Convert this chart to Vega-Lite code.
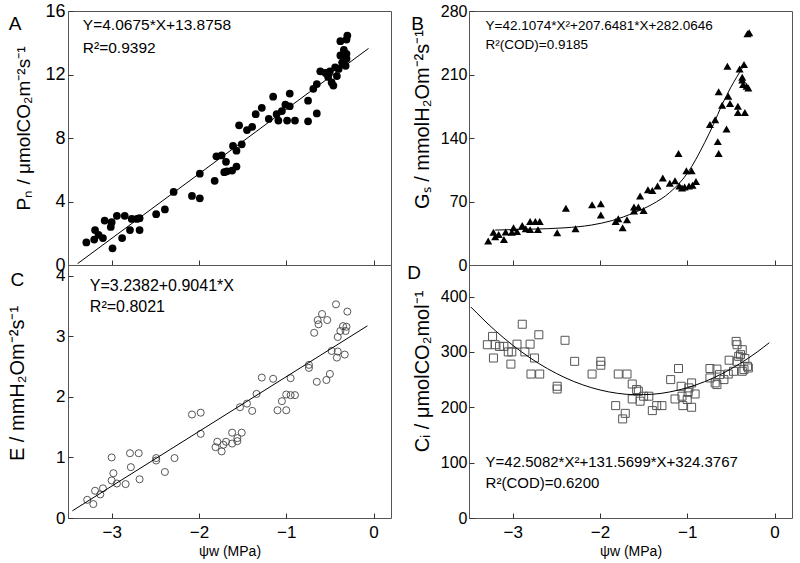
{
  "$schema": "https://vega.github.io/schema/vega-lite/v6.json",
  "autosize": {"type": "pad"},
  "padding": {"left": 7, "top": 1, "right": 0, "bottom": 0},
  "background": "white",
  "columns": 2,
  "spacing": {"row": 0, "column": 78},
  "bounds": "flush",
  "datasets": {
    "a_pts": [
      {"x":-3.29,"y":1.42},{"x":-3.20,"y":1.6},{"x":-3.19,"y":2.2},{"x":-3.15,"y":1.9},{"x":-3.10,"y":1.7},{"x":-3.08,"y":2.8},{"x":-3.01,"y":2.4},{"x":-2.99,"y":1.05},{"x":-3.0,"y":2.7},{"x":-2.94,"y":3.1},{"x":-2.88,"y":1.7},{"x":-2.85,"y":3.1},{"x":-2.79,"y":2.2},{"x":-2.77,"y":2.9},{"x":-2.71,"y":2.9},{"x":-2.68,"y":2.2},{"x":-2.68,"y":2.95},{"x":-2.49,"y":3.2},{"x":-2.39,"y":3.5},{"x":-2.29,"y":4.6},{"x":-2.08,"y":4.35},{"x":-1.99,"y":4.2},{"x":-1.99,"y":5.75},{"x":-1.82,"y":5.3},{"x":-1.80,"y":6.85},{"x":-1.74,"y":6.9},{"x":-1.69,"y":6.5},{"x":-1.71,"y":5.85},{"x":-1.68,"y":5.9},{"x":-1.62,"y":5.95},{"x":-1.57,"y":6.2},{"x":-1.61,"y":7.5},{"x":-1.57,"y":7.2},{"x":-1.54,"y":8.8},{"x":-1.51,"y":7.6},{"x":-1.45,"y":8.5},{"x":-1.39,"y":8.7},{"x":-1.35,"y":9.5},{"x":-1.28,"y":9.9},{"x":-1.20,"y":9.2},{"x":-1.15,"y":10.6},{"x":-1.11,"y":9.5},{"x":-1.09,"y":9.1},{"x":-1.05,"y":9.7},{"x":-1.01,"y":10.1},{"x":-0.99,"y":9.1},{"x":-0.96,"y":10.0},{"x":-0.96,"y":10.8},{"x":-0.90,"y":9.1},{"x":-0.75,"y":10.35},{"x":-0.75,"y":9.05},{"x":-0.65,"y":9.55},{"x":-0.69,"y":11.1},{"x":-0.65,"y":11.4},{"x":-0.61,"y":12.2},{"x":-0.55,"y":12.1},{"x":-0.52,"y":11.85},{"x":-0.50,"y":12.2},{"x":-0.48,"y":11.5},{"x":-0.46,"y":11.3},{"x":-0.44,"y":12.45},{"x":-0.42,"y":11.9},{"x":-0.40,"y":12.35},{"x":-0.38,"y":13.2},{"x":-0.36,"y":12.75},{"x":-0.34,"y":12.65},{"x":-0.32,"y":12.55},{"x":-0.34,"y":13.55},{"x":-0.31,"y":13.3},{"x":-0.38,"y":14.1},{"x":-0.31,"y":14.2},{"x":-0.30,"y":14.45},{"x":-0.31,"y":13.0}
    ],
    "a_fit": [{"x":-3.39,"y":0.087},{"x":-0.057,"y":13.644}],
    "a_txt": [{"x":-3.33,"y":15.1,"t":"Y=4.0675*X+13.8758"},{"x":-3.33,"y":13.7,"t":"R²=0.9392"}],
    "a_lab": [{"x":-4.107,"y":15.18,"t":"A"}],
    "b_pts": [
      {"x":-3.28,"y":26.5},{"x":-3.22,"y":36},{"x":-3.20,"y":31},{"x":-3.16,"y":33.5},{"x":-3.10,"y":28},{"x":-3.08,"y":36.5},{"x":-3.01,"y":36},{"x":-2.99,"y":41},{"x":-2.95,"y":37},{"x":-2.89,"y":43.5},{"x":-2.85,"y":40},{"x":-2.80,"y":48},{"x":-2.80,"y":39},{"x":-2.74,"y":48},{"x":-2.69,"y":48},{"x":-2.71,"y":39},{"x":-2.49,"y":35.6},{"x":-2.39,"y":62.5},{"x":-2.28,"y":40},{"x":-2.09,"y":66.5},{"x":-1.99,"y":67.5},{"x":-1.99,"y":55},{"x":-1.82,"y":48},{"x":-1.79,"y":51},{"x":-1.74,"y":41},{"x":-1.69,"y":50},{"x":-1.61,"y":64},{"x":-1.56,"y":64},{"x":-1.61,"y":59.5},{"x":-1.54,"y":76},{"x":-1.50,"y":60},{"x":-1.45,"y":83},{"x":-1.40,"y":82},{"x":-1.34,"y":87},{"x":-1.28,"y":96},{"x":-1.20,"y":90},{"x":-1.14,"y":93},{"x":-1.10,"y":123},{"x":-1.09,"y":87},{"x":-1.06,"y":85},{"x":-1.03,"y":86},{"x":-1.01,"y":104},{"x":-0.98,"y":87},{"x":-0.95,"y":104},{"x":-0.94,"y":88},{"x":-0.90,"y":92},{"x":-0.74,"y":155},{"x":-0.68,"y":160},{"x":-0.65,"y":136},{"x":-0.64,"y":123},{"x":-0.64,"y":191},{"x":-0.60,"y":176},{"x":-0.55,"y":150},{"x":-0.54,"y":219},{"x":-0.53,"y":186},{"x":-0.51,"y":178},{"x":-0.42,"y":175},{"x":-0.42,"y":168},{"x":-0.40,"y":216},{"x":-0.35,"y":221},{"x":-0.37,"y":204},{"x":-0.36,"y":199},{"x":-0.34,"y":168},{"x":-0.32,"y":197},{"x":-0.30,"y":195},{"x":-0.31,"y":255},{"x":-0.29,"y":256},{"x":-0.37,"y":207}
    ],
    "b_fit": [
      {"x":-3.2,"y":38.5},{"x":-2.8,"y":39.5},{"x":-2.4,"y":41},{"x":-2.1,"y":44},{"x":-1.86,"y":49},{"x":-1.6,"y":58},{"x":-1.4,"y":67},{"x":-1.2,"y":80},{"x":-1.0,"y":101},{"x":-0.8,"y":135},{"x":-0.7,"y":155},{"x":-0.6,"y":177},{"x":-0.5,"y":196},{"x":-0.37,"y":217}
    ],
    "b_txt": [{"x":-3.31,"y":263.5,"t":"Y=42.1074*X²+207.6481*X+282.0646"},{"x":-3.31,"y":242.5,"t":"R²(COD)=0.9185"}],
    "b_lab": [{"x":-4.09,"y":265.7,"t":"B"}],
    "c_pts": [
      {"x":-3.28,"y":0.30},{"x":-3.21,"y":0.23},{"x":-3.19,"y":0.45},{"x":-3.13,"y":0.39},{"x":-3.10,"y":0.49},{"x":-3.0,"y":1.0},{"x":-2.98,"y":0.74},{"x":-3.0,"y":0.62},{"x":-2.94,"y":0.57},{"x":-2.84,"y":0.56},{"x":-2.79,"y":1.07},{"x":-2.78,"y":0.84},{"x":-2.69,"y":1.07},{"x":-2.68,"y":0.64},{"x":-2.49,"y":0.99},{"x":-2.49,"y":0.95},{"x":-2.39,"y":0.76},{"x":-2.28,"y":0.99},{"x":-2.08,"y":1.71},{"x":-1.98,"y":1.74},{"x":-1.98,"y":1.39},{"x":-1.81,"y":1.17},{"x":-1.79,"y":1.26},{"x":-1.74,"y":1.10},{"x":-1.72,"y":1.21},{"x":-1.69,"y":1.26},{"x":-1.62,"y":1.23},{"x":-1.62,"y":1.41},{"x":-1.56,"y":1.32},{"x":-1.56,"y":1.27},{"x":-1.53,"y":1.83},{"x":-1.51,"y":1.41},{"x":-1.45,"y":1.89},{"x":-1.39,"y":1.77},{"x":-1.34,"y":2.05},{"x":-1.28,"y":2.32},{"x":-1.15,"y":2.30},{"x":-1.10,"y":1.78},{"x":-1.05,"y":1.93},{"x":-1.0,"y":1.78},{"x":-1.0,"y":2.04},{"x":-0.95,"y":2.31},{"x":-0.95,"y":2.03},{"x":-0.90,"y":2.03},{"x":-0.74,"y":2.48},{"x":-0.74,"y":2.53},{"x":-0.68,"y":3.06},{"x":-0.65,"y":2.25},{"x":-0.64,"y":3.27},{"x":-0.63,"y":3.20},{"x":-0.59,"y":3.37},{"x":-0.54,"y":2.28},{"x":-0.53,"y":3.27},{"x":-0.50,"y":2.38},{"x":-0.48,"y":2.76},{"x":-0.42,"y":2.65},{"x":-0.41,"y":2.75},{"x":-0.41,"y":2.99},{"x":-0.43,"y":3.53},{"x":-0.38,"y":3.09},{"x":-0.35,"y":3.17},{"x":-0.33,"y":2.70},{"x":-0.32,"y":3.09},{"x":-0.31,"y":3.16},{"x":-0.30,"y":3.41}
    ],
    "c_fit": [{"x":-3.45,"y":0.119},{"x":-0.07,"y":3.175}],
    "c_txt": [{"x":-3.25,"y":3.84,"t":"Y=3.2382+0.9041*X"},{"x":-3.25,"y":3.48,"t":"R²=0.8021"}],
    "c_lab": [{"x":-4.08,"y":3.94,"t":"C"}],
    "d_pts": [
      {"x":-3.29,"y":313},{"x":-3.23,"y":328},{"x":-3.22,"y":289},{"x":-3.20,"y":313},{"x":-3.15,"y":310},{"x":-3.10,"y":310},{"x":-3.05,"y":300},{"x":-3.02,"y":278},{"x":-3.01,"y":300},{"x":-2.95,"y":314},{"x":-2.89,"y":350},{"x":-2.86,"y":300},{"x":-2.80,"y":314},{"x":-2.79,"y":260},{"x":-2.75,"y":289},{"x":-2.70,"y":331},{"x":-2.69,"y":260},{"x":-2.49,"y":238},{"x":-2.49,"y":233},{"x":-2.40,"y":321},{"x":-2.29,"y":283},{"x":-2.09,"y":260},{"x":-1.99,"y":283},{"x":-1.99,"y":276},{"x":-1.82,"y":203},{"x":-1.79,"y":260},{"x":-1.74,"y":179},{"x":-1.71,"y":189},{"x":-1.69,"y":260},{"x":-1.63,"y":242},{"x":-1.63,"y":215},{"x":-1.58,"y":232},{"x":-1.56,"y":229},{"x":-1.54,"y":211},{"x":-1.50,"y":220},{"x":-1.44,"y":220},{"x":-1.40,"y":194},{"x":-1.35,"y":203},{"x":-1.29,"y":203},{"x":-1.19,"y":250},{"x":-1.14,"y":215},{"x":-1.10,"y":270},{"x":-1.07,"y":238},{"x":-1.06,"y":220},{"x":-1.05,"y":203},{"x":-1.0,"y":214},{"x":-0.99,"y":227},{"x":-0.98,"y":235},{"x":-0.95,"y":244},{"x":-0.95,"y":200},{"x":-0.91,"y":224},{"x":-0.74,"y":253},{"x":-0.74,"y":270},{"x":-0.68,"y":244},{"x":-0.66,"y":241},{"x":-0.66,"y":269},{"x":-0.63,"y":259},{"x":-0.58,"y":250},{"x":-0.52,"y":285},{"x":-0.53,"y":260},{"x":-0.47,"y":265},{"x":-0.44,"y":319},{"x":-0.43,"y":313},{"x":-0.43,"y":283},{"x":-0.41,"y":292},{"x":-0.39,"y":295},{"x":-0.37,"y":265},{"x":-0.37,"y":304},{"x":-0.35,"y":268},{"x":-0.34,"y":288},{"x":-0.31,"y":274},{"x":-0.30,"y":271}
    ],
    "d_fit": [
      {"x":-3.48,"y":381.31},{"x":-3.2,"y":338.64},{"x":-3.0,"y":312.24},{"x":-2.8,"y":289.24},{"x":-2.6,"y":269.66},{"x":-2.4,"y":253.46},{"x":-2.2,"y":240.67},{"x":-2.0,"y":231.27},{"x":-1.8,"y":225.28},{"x":-1.6,"y":222.69},{"x":-1.4,"y":223.50},{"x":-1.2,"y":227.71},{"x":-1.0,"y":235.32},{"x":-0.8,"y":246.33},{"x":-0.6,"y":260.74},{"x":-0.4,"y":278.55},{"x":-0.2,"y":299.77},{"x":-0.06,"y":316.64}
    ],
    "d_txt": [{"x":-3.31,"y":102,"t":"Y=42.5082*X²+131.5699*X+324.3767"},{"x":-3.31,"y":62.6,"t":"R²(COD)=0.6200"}],
    "d_lab": [{"x":-4.13,"y":442.7,"t":"D"}]
  },
  "concat": [
    {
      "width": 323,
      "height": 254,
      "encoding": {
        "x": {"field": "x", "type": "quantitative", "scale": {"domain": [-3.5, 0.2], "nice": false, "zero": false},
              "axis": {"values": [-3, -2, -1, 0], "labels": false, "title": null}},
        "y": {"field": "y", "type": "quantitative", "scale": {"domain": [0, 16], "nice": false},
              "axis": {"values": [0, 4, 8, 12, 16], "labelFontSize": 18, "title": "Pₙ / μmolCO₂m⁻²s⁻¹", "titlePadding": 11, "titleY": 117}}
      },
      "layer": [
        {"data": {"name": "a_pts"}, "mark": {"type": "circle", "size": 60, "color": "black", "opacity": 1}},
        {"data": {"name": "a_fit"}, "mark": {"type": "line", "color": "black", "strokeWidth": 1}},
        {"data": {"name": "a_txt"}, "mark": {"type": "text", "align": "left", "baseline": "middle", "fontSize": 15.5}, "encoding": {"text": {"field": "t"}}},
        {"data": {"name": "a_lab"}, "mark": {"type": "text", "align": "center", "baseline": "middle", "fontSize": 19}, "encoding": {"text": {"field": "t"}}}
      ]
    },
    {
      "width": 323,
      "height": 254,
      "encoding": {
        "x": {"field": "x", "type": "quantitative", "scale": {"domain": [-3.5, 0.2], "nice": false, "zero": false},
              "axis": {"values": [-3, -2, -1, 0], "labels": false, "title": null}},
        "y": {"field": "y", "type": "quantitative", "scale": {"domain": [0, 280], "nice": false},
              "axis": {"values": [0, 70, 140, 210, 280], "labelFontSize": 16, "labelPadding": 7, "title": "Gₛ / mmolH₂Om⁻²s⁻¹", "titlePadding": 8, "titleFontSize": 20, "titleY": 108}}
      },
      "layer": [
        {"data": {"name": "b_pts"}, "mark": {"type": "point", "shape": "triangle-up", "size": 65, "filled": true, "color": "black", "opacity": 1}},
        {"data": {"name": "b_fit"}, "mark": {"type": "line", "color": "black", "strokeWidth": 1, "interpolate": "monotone"}},
        {"data": {"name": "b_txt"}, "mark": {"type": "text", "align": "left", "baseline": "middle", "fontSize": 13.5}, "encoding": {"text": {"field": "t"}}},
        {"data": {"name": "b_lab"}, "mark": {"type": "text", "align": "center", "baseline": "middle", "fontSize": 19}, "encoding": {"text": {"field": "t"}}}
      ]
    },
    {
      "width": 323,
      "height": 253,
      "encoding": {
        "x": {"field": "x", "type": "quantitative", "scale": {"domain": [-3.5, 0.2], "nice": false, "zero": false},
              "axis": {"values": [-3, -2, -1, 0], "labelFontSize": 17, "title": "ψw (MPa)", "titleFontSize": 14, "labelPadding": 11, "titlePadding": 4}},
        "y": {"field": "y", "type": "quantitative", "scale": {"domain": [0, 4.18], "nice": false},
              "axis": {"values": [0, 1, 2, 3, 4], "labelFontSize": 17, "title": "E / mmH₂Om⁻²s⁻¹", "titlePadding": 28, "titleFontSize": 20, "titleY": 118}}
      },
      "layer": [
        {"data": {"name": "c_pts"}, "mark": {"type": "point", "shape": "circle", "size": 50, "filled": false, "color": "#444", "strokeWidth": 0.9, "opacity": 1}},
        {"data": {"name": "c_fit"}, "mark": {"type": "line", "color": "black", "strokeWidth": 1}},
        {"data": {"name": "c_txt"}, "mark": {"type": "text", "align": "left", "baseline": "middle", "fontSize": 16}, "encoding": {"text": {"field": "t"}}},
        {"data": {"name": "c_lab"}, "mark": {"type": "text", "align": "center", "baseline": "middle", "fontSize": 19}, "encoding": {"text": {"field": "t"}}}
      ]
    },
    {
      "width": 323,
      "height": 253,
      "encoding": {
        "x": {"field": "x", "type": "quantitative", "scale": {"domain": [-3.5, 0.2], "nice": false, "zero": false},
              "axis": {"values": [-3, -2, -1, 0], "labelFontSize": 17, "title": "ψw (MPa)", "titleFontSize": 14, "labelPadding": 11, "titlePadding": 4}},
        "y": {"field": "y", "type": "quantitative", "scale": {"domain": [0, 457], "nice": false},
              "axis": {"values": [0, 100, 200, 300, 400], "labelFontSize": 16, "labelPadding": 7, "title": "Cᵢ / μmolCO₂mol⁻¹", "titlePadding": 8, "titleFontSize": 20, "titleY": 106}}
      },
      "layer": [
        {"data": {"name": "d_pts"}, "mark": {"type": "point", "shape": "square", "size": 64, "filled": false, "color": "#555", "strokeWidth": 1, "opacity": 1}},
        {"data": {"name": "d_fit"}, "mark": {"type": "line", "color": "black", "strokeWidth": 1, "interpolate": "monotone"}},
        {"data": {"name": "d_txt"}, "mark": {"type": "text", "align": "left", "baseline": "middle", "fontSize": 15}, "encoding": {"text": {"field": "t"}}},
        {"data": {"name": "d_lab"}, "mark": {"type": "text", "align": "center", "baseline": "middle", "fontSize": 19}, "encoding": {"text": {"field": "t"}}}
      ]
    }
  ],
  "config": {
    "font": "Liberation Sans",
    "view": {"stroke": "#555", "strokeWidth": 1},
    "axis": {
      "domain": false, "grid": false, "ticks": true, "tickSize": -5, "tickColor": "#333", "tickWidth": 1,
      "labelColor": "black", "labelFont": "Liberation Sans", "labelFlush": false, "labelOverlap": false, "labelBound": false, "labelPadding": 8,
      "titleColor": "black", "titleFont": "Liberation Sans", "titleFontWeight": "normal", "titleFontSize": 19
    },
    "text": {"color": "black", "font": "Liberation Sans"}
  }
}
